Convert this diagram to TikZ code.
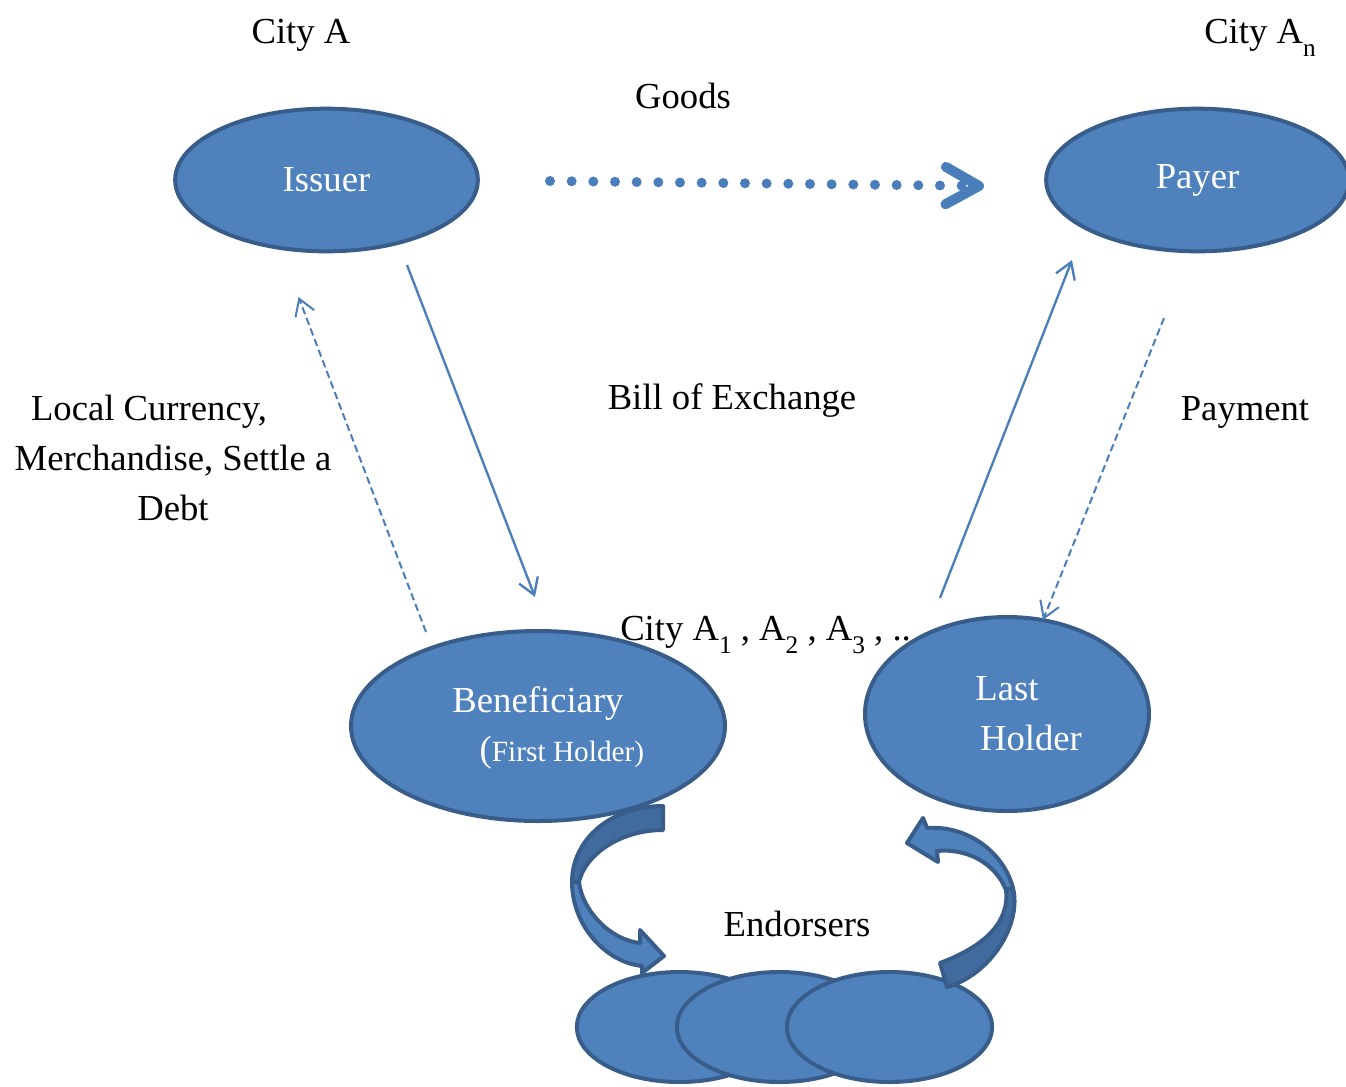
\documentclass[tikz,border=0pt]{standalone}
\usepackage{fontspec}
\setmainfont{Liberation Serif}
\usetikzlibrary{shapes.geometric,arrows.meta,calc}

\definecolor{partyfill}{HTML}{4F81BD}
\definecolor{partyline}{HTML}{385D8A}
\definecolor{partyback}{HTML}{416B9E}
\definecolor{flowblue}{HTML}{4A7EBB}

\newcommand{\citysub}[1]{\raisebox{-10pt}{\fontsize{19}{19}\selectfont #1}}

\begin{document}
\begin{tikzpicture}[x=0.75pt,y=-0.75pt,
party/.style={draw=partyline, fill=partyfill, line width=3pt, ellipse, inner sep=0pt, text=white, font=\fontsize{27.5}{34}\selectfont},
note/.style={font=\fontsize{27.5}{37.5}\selectfont, inner sep=0pt, anchor=base},
onparty/.style={note, text=white},
bill/.style={draw=flowblue, line width=1.75pt, -{Straight Barb[length=12pt,width=15pt]}},
cash/.style={bill, line width=1.5pt, dash pattern=on 5.5pt off 3pt},
goods/.style={draw=flowblue, line width=7.5pt, line cap=round, dash pattern=on 0pt off 16.25pt, -{Straight Barb[length=25pt,width=28pt,round]}},
curvearrow/.style={draw=partyline, fill=partyfill, line width=3pt, line join=round},
curveback/.style={curvearrow, fill=partyback}
]
\useasboundingbox (0,0) rectangle (1346,1086);

% texts
\node[note] (citya) at (301,43) {City A};
\node[note] (cityan) at (1260,43) {City A\citysub{n}};
\node[note] (goodslbl) at (683,108) {Goods};
\node[note] (billlbl) at (732,409) {Bill of Exchange};
\node[note] (paylbl) at (1245,420) {Payment};
\node[note, anchor=center, align=center] (locallbl) at (173,458) {Local Currency,\hspace*{36pt}\\Merchandise, Settle a\\Debt};
\node[note, anchor=base west] (citiesn) at (620,640) {City A\citysub{1} , A\citysub{2} , A\citysub{3} , ..};
\node[note] (endlbl) at (797,936) {Endorsers};

% parties
\node[party, minimum width=227pt, minimum height=107pt] (issuer) at (326.5,180) {Issuer};
\node[party, minimum width=227pt, minimum height=107pt] (payer) at (1197.5,180) {Payer};
\node[party, minimum width=280.5pt, minimum height=142.5pt] (ben) at (538,726) {};
\node[onparty] (benname) at ($(ben.center)+(0,-14)$) {Beneficiary};
\node[onparty] (benrole) at ($(ben.center)+(24,35)$) {(\fontsize{22}{26}\selectfont First Holder)};
\node[party, minimum width=213pt, minimum height=145.5pt] (holder) at (1007,714) {};
\node[onparty] (holdera) at ($(holder.center)+(0,-14)$) {Last};
\node[onparty] (holderb) at ($(holder.center)+(24,36)$) {Holder};

% endorsers
\node[party, minimum width=154pt, minimum height=82.5pt] (end1) at (679.5,1027) {};
\node[party, minimum width=154pt, minimum height=82.5pt] (end2) at (779.5,1027) {};
\node[party, minimum width=154pt, minimum height=82.5pt] (end3) at (889.5,1027) {};

% flows
\draw[goods] ($(issuer.center)+(223.5,1)$) -- ($(payer.center)+(-213.5,6)$);
\draw[bill] ($(issuer.center)+(80.5,85)$) -- ($(ben.center)+(-3,-129)$);
\draw[cash] ($(ben.center)+(-112,-94)$) -- ($(issuer.center)+(-28,117)$);
\draw[bill] ($(holder.center)+(-67,-116)$) -- ($(payer.center)+(-125.5,80)$);
\draw[cash] ($(payer.center)+(-33.5,138)$) -- ($(holder.center)+(36,-94)$);

% endorsement arrows (front and back of the twisted band)
\draw[curvearrow] (572,882) .. controls (572,925) and (605,962) .. (642,966) -- (642,973) -- (664,956)
  -- (640,930) -- (640,943) .. controls (610,940) and (582,910) .. (579,882) -- cycle;
\draw[curveback] (663,806) .. controls (610,806) and (572,840) .. (572,882) -- (579,882)
  .. controls (585,855) and (620,830) .. (663,830) -- cycle;
\draw[curvearrow] (907,843) -- (923,818) -- (927,828) .. controls (965,825) and (1003,850) .. (1013,888)
  -- (1006,890) .. controls (995,862) and (965,848) .. (937,851) -- (938,862) -- cycle;
\draw[curveback] (1013,888) .. controls (1022,925) and (990,975) .. (947,987) -- (940,963)
  .. controls (980,948) and (1010,925) .. (1006,890) -- cycle;
\end{tikzpicture}
\end{document}
